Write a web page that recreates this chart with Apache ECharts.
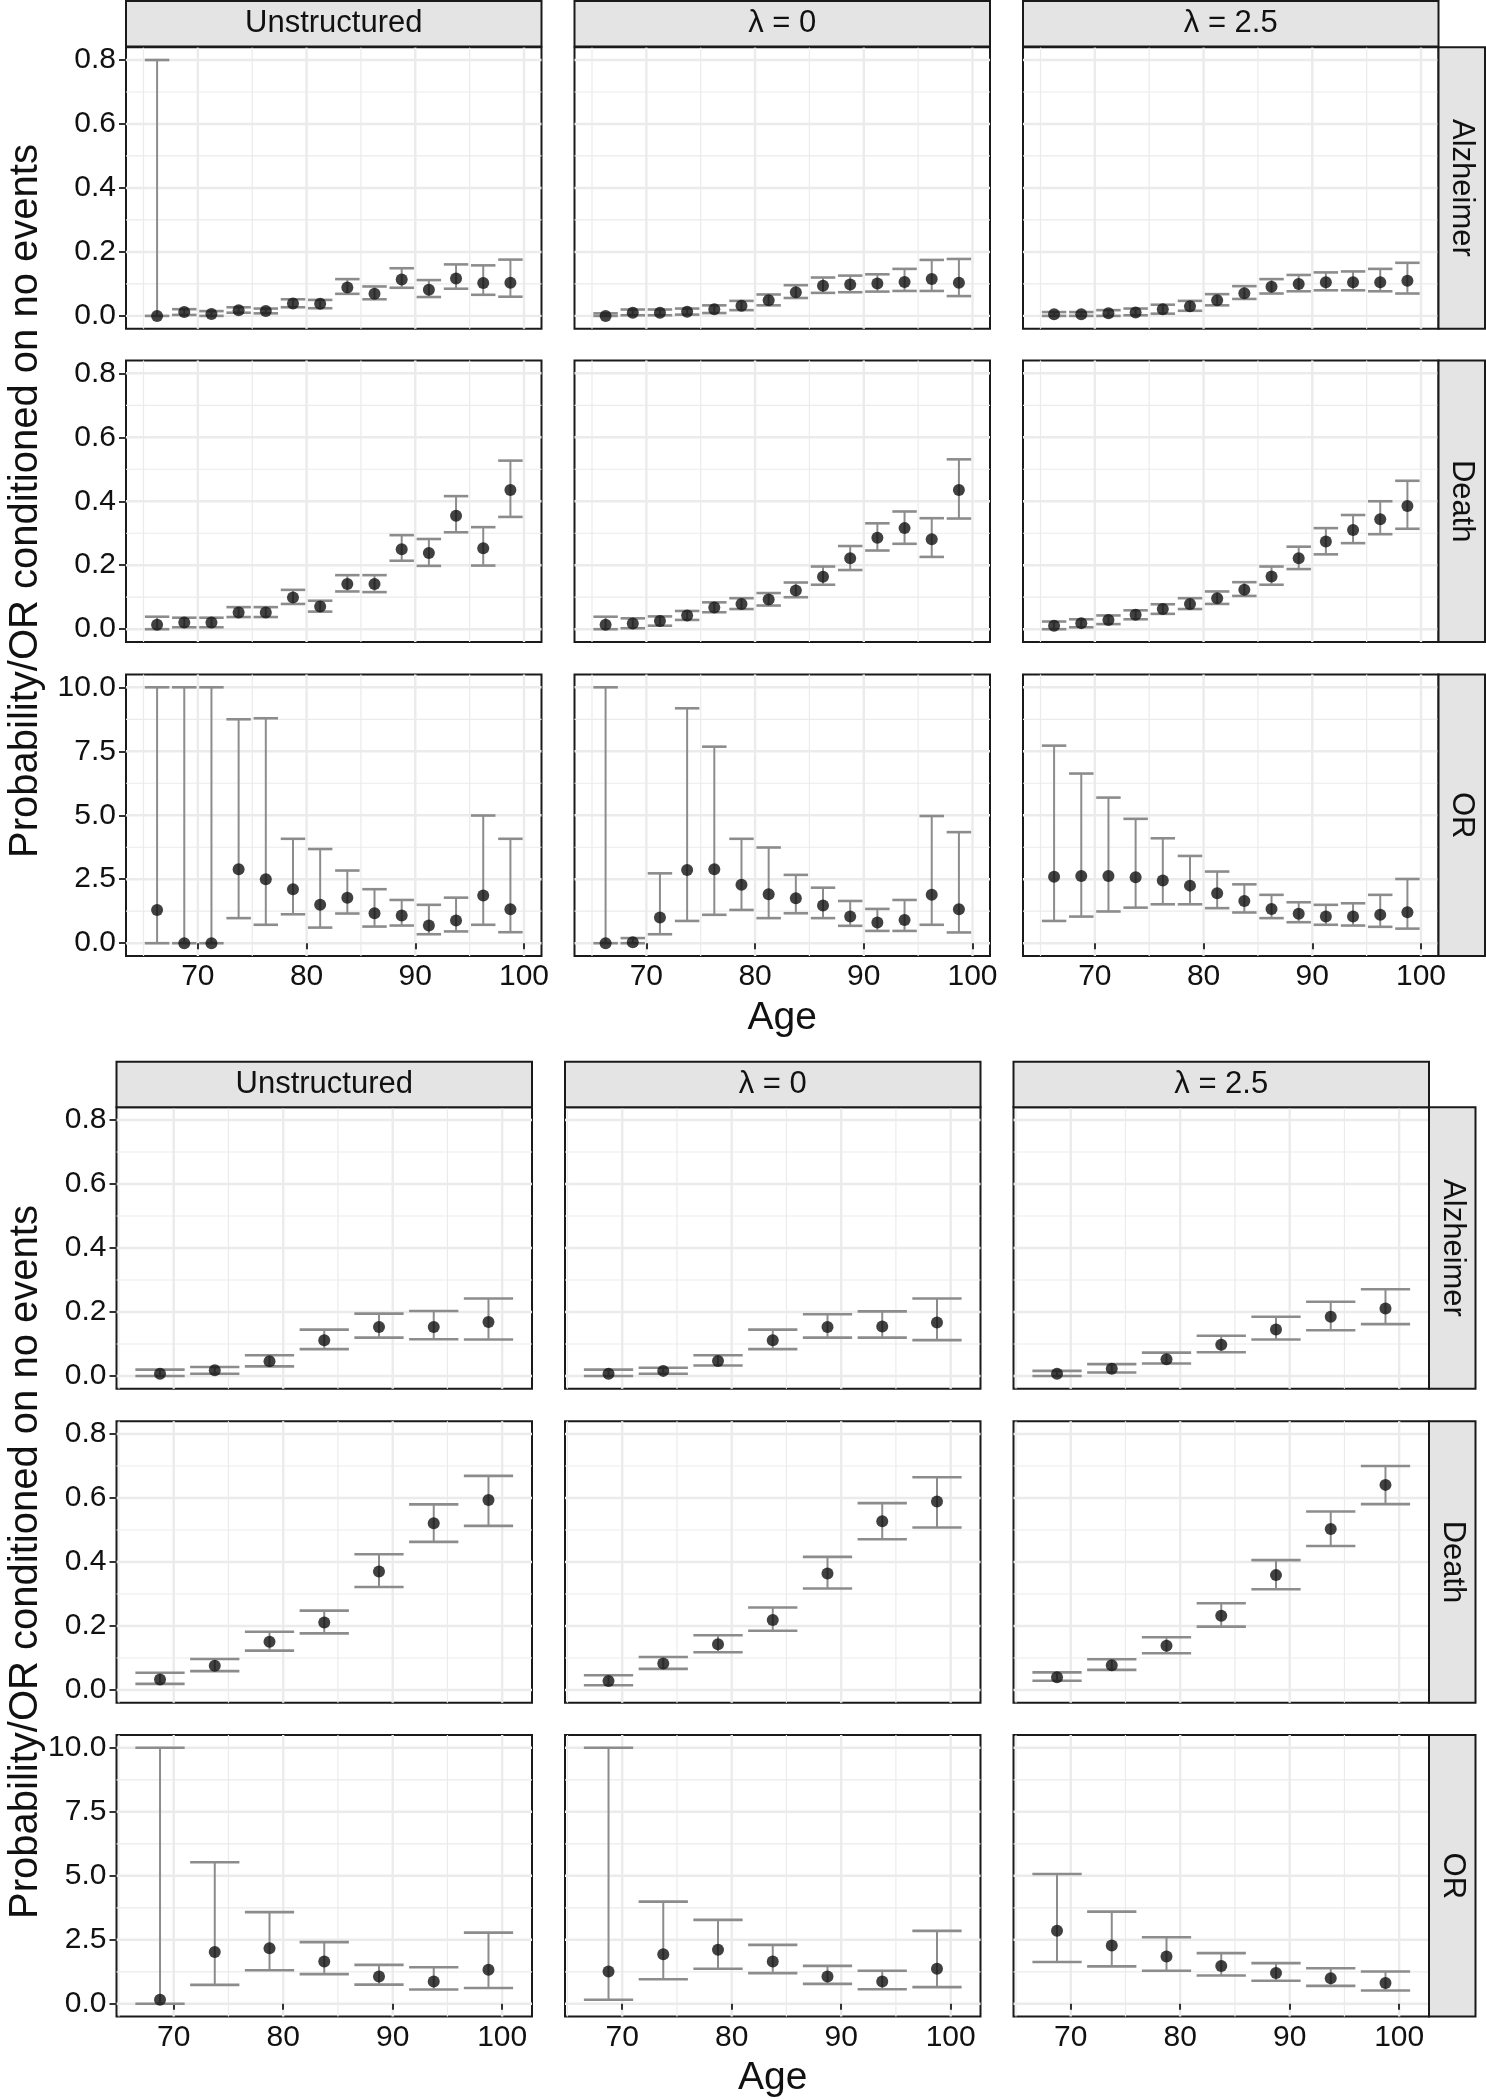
<!DOCTYPE html>
<html><head><meta charset="utf-8">
<script src="https://cdn.jsdelivr.net/npm/echarts@6/dist/echarts.min.js"></script>
<style>html,body{margin:0;padding:0;background:#fff}#c{width:1486px;height:2100px}</style>
</head><body><div id="c"></div>
<script>
// ---------- categories / ticks ----------
const columnLabels = ['Unstructured', 'λ = 0', 'λ = 2.5'];
const rowLabels = ['Alzheimer', 'Death', 'OR'];
const agesTop = [66.25, 68.75, 71.25, 73.75, 76.25, 78.75, 81.25, 83.75, 86.25, 88.75, 91.25, 93.75, 96.25, 98.75];
const agesBottom = [68.75, 73.75, 78.75, 83.75, 88.75, 93.75, 98.75];
const ageTicks = [70, 80, 90, 100];
const ageMinor = [65, 75, 85, 95];
const probTicks = [0, 0.2, 0.4, 0.6, 0.8];
const probMinor = [0.1, 0.3, 0.5, 0.7];
const orTicks = [0, 2.5, 5, 7.5, 10];
const orMinor = [1.25, 3.75, 6.25, 8.75];

// ---------- top block (2.5-year age groups) ----------
const topAlzUnstrEst = [0.000, 0.012, 0.006, 0.018, 0.015, 0.039, 0.038, 0.089, 0.069, 0.114, 0.082, 0.117, 0.103, 0.104];
const topAlzUnstrLo  = [0.000, 0.003, 0.000, 0.010, 0.008, 0.027, 0.024, 0.069, 0.052, 0.088, 0.059, 0.085, 0.066, 0.060];
const topAlzUnstrHi  = [0.800, 0.021, 0.015, 0.027, 0.023, 0.052, 0.050, 0.115, 0.092, 0.149, 0.112, 0.161, 0.158, 0.176];
const topAlzL0Est = [0.000, 0.010, 0.010, 0.013, 0.021, 0.032, 0.049, 0.074, 0.094, 0.098, 0.101, 0.106, 0.115, 0.104];
const topAlzL0Lo  = [0.000, 0.002, 0.002, 0.004, 0.009, 0.018, 0.033, 0.056, 0.072, 0.074, 0.076, 0.078, 0.078, 0.062];
const topAlzL0Hi  = [0.008, 0.020, 0.020, 0.023, 0.033, 0.047, 0.067, 0.096, 0.120, 0.126, 0.130, 0.147, 0.175, 0.178];
const topAlzL25Est = [0.005, 0.005, 0.008, 0.011, 0.021, 0.030, 0.049, 0.071, 0.091, 0.100, 0.105, 0.105, 0.105, 0.110];
const topAlzL25Lo  = [0.000, 0.000, 0.000, 0.002, 0.007, 0.016, 0.033, 0.053, 0.070, 0.077, 0.080, 0.080, 0.077, 0.070];
const topAlzL25Hi  = [0.012, 0.012, 0.018, 0.023, 0.035, 0.047, 0.068, 0.093, 0.115, 0.128, 0.136, 0.139, 0.147, 0.166];

const topDeathUnstrEst = [0.014, 0.021, 0.021, 0.052, 0.052, 0.099, 0.071, 0.141, 0.141, 0.250, 0.238, 0.355, 0.253, 0.435];
const topDeathUnstrLo  = [0.000, 0.006, 0.006, 0.038, 0.038, 0.079, 0.055, 0.118, 0.116, 0.214, 0.198, 0.303, 0.199, 0.351];
const topDeathUnstrHi  = [0.039, 0.036, 0.036, 0.069, 0.069, 0.123, 0.089, 0.169, 0.169, 0.294, 0.282, 0.416, 0.319, 0.527];
const topDeathL0Est = [0.014, 0.018, 0.026, 0.043, 0.068, 0.079, 0.093, 0.121, 0.164, 0.222, 0.286, 0.316, 0.281, 0.435];
const topDeathL0Lo  = [0.000, 0.003, 0.011, 0.029, 0.053, 0.063, 0.074, 0.100, 0.139, 0.185, 0.246, 0.267, 0.226, 0.346];
const topDeathL0Hi  = [0.039, 0.034, 0.040, 0.057, 0.084, 0.097, 0.113, 0.146, 0.196, 0.260, 0.331, 0.368, 0.347, 0.531];
const topDeathL25Est = [0.011, 0.019, 0.029, 0.045, 0.063, 0.079, 0.097, 0.123, 0.165, 0.222, 0.274, 0.310, 0.344, 0.385];
const topDeathL25Lo  = [0.000, 0.006, 0.016, 0.031, 0.048, 0.063, 0.079, 0.104, 0.139, 0.188, 0.234, 0.269, 0.297, 0.314];
const topDeathL25Hi  = [0.024, 0.031, 0.043, 0.059, 0.078, 0.097, 0.118, 0.147, 0.196, 0.258, 0.316, 0.357, 0.400, 0.464];

const topORUnstrEst = [1.30, 0.00, 0.00, 2.89, 2.50, 2.11, 1.50, 1.78, 1.17, 1.08, 0.69, 0.89, 1.86, 1.33];
const topORUnstrLo  = [0.00, 0.00, 0.00, 0.98, 0.72, 1.13, 0.61, 1.16, 0.65, 0.69, 0.35, 0.46, 0.72, 0.43];
const topORUnstrHi  = [10.0, 10.0, 10.0, 8.75, 8.79, 4.08, 3.68, 2.84, 2.11, 1.69, 1.50, 1.78, 4.99, 4.08];
const topORL0Est = [0.00, 0.04, 1.00, 2.86, 2.89, 2.28, 1.91, 1.76, 1.47, 1.04, 0.81, 0.91, 1.89, 1.33];
const topORL0Lo  = [0.00, 0.00, 0.35, 0.87, 1.11, 1.30, 0.98, 1.17, 0.98, 0.68, 0.48, 0.48, 0.72, 0.42];
const topORL0Hi  = [10.0, 0.20, 2.73, 9.18, 7.68, 4.08, 3.74, 2.67, 2.17, 1.65, 1.34, 1.69, 4.97, 4.34];
const topORL25Est = [2.60, 2.63, 2.63, 2.58, 2.45, 2.25, 1.95, 1.65, 1.34, 1.15, 1.04, 1.04, 1.11, 1.21];
const topORL25Lo  = [0.87, 1.04, 1.24, 1.39, 1.52, 1.52, 1.37, 1.20, 0.98, 0.82, 0.72, 0.69, 0.64, 0.57];
const topORL25Hi  = [7.72, 6.63, 5.69, 4.86, 4.10, 3.41, 2.80, 2.30, 1.89, 1.60, 1.50, 1.56, 1.89, 2.51];

// ---------- bottom block (5-year age groups) ----------
const botAlzUnstrEst = [0.007, 0.018, 0.046, 0.112, 0.153, 0.153, 0.169];
const botAlzUnstrLo  = [0.000, 0.007, 0.030, 0.084, 0.120, 0.115, 0.114];
const botAlzUnstrHi  = [0.020, 0.028, 0.065, 0.145, 0.195, 0.203, 0.242];
const botAlzL0Est = [0.007, 0.016, 0.047, 0.112, 0.153, 0.155, 0.167];
const botAlzL0Lo  = [0.000, 0.007, 0.033, 0.084, 0.120, 0.120, 0.112];
const botAlzL0Hi  = [0.020, 0.026, 0.065, 0.145, 0.193, 0.202, 0.242];
const botAlzL25Est = [0.007, 0.023, 0.052, 0.098, 0.145, 0.185, 0.211];
const botAlzL25Lo  = [0.000, 0.011, 0.039, 0.074, 0.114, 0.143, 0.162];
const botAlzL25Hi  = [0.016, 0.037, 0.073, 0.126, 0.185, 0.232, 0.271];

const botDeathUnstrEst = [0.033, 0.076, 0.151, 0.211, 0.370, 0.521, 0.594];
const botDeathUnstrLo  = [0.019, 0.059, 0.123, 0.177, 0.322, 0.463, 0.513];
const botDeathUnstrHi  = [0.054, 0.097, 0.182, 0.248, 0.424, 0.580, 0.669];
const botDeathL0Est = [0.028, 0.083, 0.143, 0.219, 0.364, 0.527, 0.589];
const botDeathL0Lo  = [0.015, 0.066, 0.118, 0.185, 0.317, 0.471, 0.508];
const botDeathL0Hi  = [0.046, 0.103, 0.171, 0.258, 0.416, 0.584, 0.665];
const botDeathL25Est = [0.040, 0.077, 0.138, 0.232, 0.359, 0.503, 0.641];
const botDeathL25Lo  = [0.029, 0.063, 0.115, 0.198, 0.315, 0.450, 0.581];
const botDeathL25Hi  = [0.055, 0.096, 0.165, 0.271, 0.406, 0.558, 0.700];

const botORUnstrEst = [0.16, 2.02, 2.17, 1.65, 1.07, 0.87, 1.33];
const botORUnstrLo  = [0.00, 0.74, 1.31, 1.16, 0.75, 0.56, 0.62];
const botORUnstrHi  = [10.0, 5.53, 3.58, 2.41, 1.52, 1.43, 2.78];
const botORL0Est = [1.26, 1.94, 2.11, 1.65, 1.07, 0.87, 1.37];
const botORL0Lo  = [0.16, 0.96, 1.37, 1.20, 0.78, 0.57, 0.65];
const botORL0Hi  = [10.0, 3.99, 3.28, 2.30, 1.48, 1.29, 2.85];
const botORL25Est = [2.85, 2.28, 1.85, 1.48, 1.20, 1.00, 0.81];
const botORL25Lo  = [1.63, 1.46, 1.29, 1.105, 0.90, 0.70, 0.52];
const botORL25Hi  = [5.07, 3.60, 2.60, 1.98, 1.59, 1.39, 1.26];

// ---------- assembly ----------
const topPanels = [
  [[topAlzUnstrEst, topAlzUnstrLo, topAlzUnstrHi], [topAlzL0Est, topAlzL0Lo, topAlzL0Hi], [topAlzL25Est, topAlzL25Lo, topAlzL25Hi]],
  [[topDeathUnstrEst, topDeathUnstrLo, topDeathUnstrHi], [topDeathL0Est, topDeathL0Lo, topDeathL0Hi], [topDeathL25Est, topDeathL25Lo, topDeathL25Hi]],
  [[topORUnstrEst, topORUnstrLo, topORUnstrHi], [topORL0Est, topORL0Lo, topORL0Hi], [topORL25Est, topORL25Lo, topORL25Hi]]
];
const botPanels = [
  [[botAlzUnstrEst, botAlzUnstrLo, botAlzUnstrHi], [botAlzL0Est, botAlzL0Lo, botAlzL0Hi], [botAlzL25Est, botAlzL25Lo, botAlzL25Hi]],
  [[botDeathUnstrEst, botDeathUnstrLo, botDeathUnstrHi], [botDeathL0Est, botDeathL0Lo, botDeathL0Hi], [botDeathL25Est, botDeathL25Lo, botDeathL25Hi]],
  [[botORUnstrEst, botORUnstrLo, botORUnstrHi], [botORL0Est, botORL0Lo, botORL0Hi], [botORL25Est, botORL25Lo, botORL25Hi]]
];

const FONT = '"Liberation Sans", Arial, Helvetica, sans-serif';
const TEXT = '#111111';
const BORDER = '#1a1a1a';
const STRIP_FILL = '#E4E4E4';
const GRID_COLOR = '#EBEBEB';
const EB_COLOR = '#8c8c8c';
const TICK_FS = 30, STRIP_FS = 31, TITLE_FS = 39;

const blocks = [
  { ages: agesTop, cap: 1.125, xMin: 63.39, xMax: 101.61, panels: topPanels,
    colLeft: [126, 574.5, 1023], rowTop: [47.2, 360.5, 674.5], pw: 415.5, ph: 281.5,
    stripTop: 1, stripH: 45.5, rightStripW: 46.5, ageY: 1018, yTitleY: 501 },
  { ages: agesBottom, cap: 2.25, xMin: 64.775, xMax: 102.725, panels: botPanels,
    colLeft: [116.5, 565, 1013.5], rowTop: [1107.2, 1421.2, 1735], pw: 415.5, ph: 281.6,
    stripTop: 1061.7, stripH: 45.5, rightStripW: 46.5, ageY: 2078, yTitleY: 1562 }
];

const grids = [], xAxes = [], yAxes = [], series = [], graphics = [];

blocks.forEach((b) => {
  for (let r = 0; r < 3; r++) {
    const isOR = r === 2;
    const yMin = isOR ? -0.5 : -0.04, yMax = isOR ? 10.5 : 0.84;
    const yMajor = isOR ? orTicks : probTicks, yMinorV = isOR ? orMinor : probMinor;
    for (let c = 0; c < 3; c++) {
      const gi = grids.length;
      const [est, lo, hi] = b.panels[r][c];
      grids.push({ left: b.colLeft[c], top: b.rowTop[r], width: b.pw, height: b.ph,
        show: true, borderColor: BORDER, borderWidth: 2, backgroundColor: '#fff', containLabel: false });
      const isBottom = r === 2, isLeft = c === 0;
      xAxes.push({ gridIndex: gi, type: 'value', min: b.xMin, max: b.xMax,
        axisLine: { show: false }, splitLine: { show: false },
        axisTick: { show: isBottom, customValues: ageTicks, length: 6, lineStyle: { color: '#333', width: 2 } },
        axisLabel: { show: isBottom, customValues: ageTicks, margin: 6, fontSize: TICK_FS, color: TEXT, fontFamily: FONT } });
      yAxes.push({ gridIndex: gi, type: 'value', min: yMin, max: yMax,
        axisLine: { show: false }, splitLine: { show: false },
        axisTick: { show: isLeft, customValues: yMajor, length: 7, lineStyle: { color: '#333', width: 2 } },
        axisLabel: { show: isLeft, customValues: yMajor, margin: 10, fontSize: TICK_FS, color: TEXT, fontFamily: FONT,
          formatter: (v) => Number(v).toFixed(1) } });

      // panel grid lines: [kind(0=horizontal,1=vertical), value, major(1)/minor(0)]
      const gridData = [];
      yMajor.forEach(v => gridData.push([0, v, 1]));
      yMinorV.forEach(v => gridData.push([0, v, 0]));
      ageTicks.forEach(v => gridData.push([1, v, 1]));
      ageMinor.forEach(v => gridData.push([1, v, 0]));
      const xMin = b.xMin, xMax = b.xMax;
      series.push({ type: 'custom', xAxisIndex: gi, yAxisIndex: gi, data: gridData, z: 0, animation: false, silent: true,
        dimensions: ['kind', 'val', 'major'], encode: { x: -1, y: -1 },
        renderItem: (params, api) => {
          const kind = api.value(0), v = api.value(1), major = api.value(2);
          let p1, p2;
          if (kind === 0) { p1 = api.coord([xMin, v]); p2 = api.coord([xMax, v]); }
          else { p1 = api.coord([v, yMin]); p2 = api.coord([v, yMax]); }
          return { type: 'line', shape: { x1: p1[0], y1: p1[1], x2: p2[0], y2: p2[1] },
            style: { stroke: GRID_COLOR, lineWidth: major ? 2.4 : 1.2 } };
        } });

      const pts = b.ages.map((a, i) => [a, est[i]]);
      const bars = b.ages.map((a, i) => [a, lo[i], hi[i]]);
      const cap = b.cap;
      series.push({ type: 'custom', xAxisIndex: gi, yAxisIndex: gi, data: bars, z: 3, animation: false, silent: true,
        encode: { x: 0, y: [1, 2] },
        renderItem: (params, api) => {
          const x = api.value(0), l = api.value(1), h = api.value(2);
          const pt = api.coord([x, h]), pb = api.coord([x, l]);
          const xl = api.coord([x - cap, l])[0], xr = api.coord([x + cap, l])[0];
          return { type: 'group', children: [
            { type: 'line', shape: { x1: pt[0], y1: pt[1], x2: pb[0], y2: pb[1] }, style: { stroke: EB_COLOR, lineWidth: 2 } },
            { type: 'line', shape: { x1: xl, y1: pt[1], x2: xr, y2: pt[1] }, style: { stroke: EB_COLOR, lineWidth: 2.6 } },
            { type: 'line', shape: { x1: xl, y1: pb[1], x2: xr, y2: pb[1] }, style: { stroke: EB_COLOR, lineWidth: 2.6 } }
          ] };
        } });
      series.push({ type: 'scatter', xAxisIndex: gi, yAxisIndex: gi, data: pts, symbol: 'circle', symbolSize: 12,
        itemStyle: { color: '#111111' }, z: 5, animation: false, silent: true });
    }
  }

  // column strips
  for (let c = 0; c < 3; c++) {
    graphics.push({ type: 'rect', shape: { x: b.colLeft[c], y: b.stripTop, width: b.pw, height: b.stripH },
      style: { fill: STRIP_FILL, stroke: BORDER, lineWidth: 2 }, z: 10, silent: true });
    graphics.push({ type: 'text', x: b.colLeft[c] + b.pw / 2, y: b.stripTop + b.stripH / 2,
      style: { text: columnLabels[c], font: `${STRIP_FS}px ${FONT}`, fill: TEXT, textAlign: 'center', textVerticalAlign: 'middle' },
      z: 11, silent: true });
  }
  // row strips
  const rx = b.colLeft[2] + b.pw;
  for (let r = 0; r < 3; r++) {
    graphics.push({ type: 'rect', shape: { x: rx, y: b.rowTop[r], width: b.rightStripW, height: b.ph },
      style: { fill: STRIP_FILL, stroke: BORDER, lineWidth: 2 }, z: 10, silent: true });
    graphics.push({ type: 'text', x: rx + b.rightStripW / 2, y: b.rowTop[r] + b.ph / 2, rotation: -Math.PI / 2,
      style: { text: rowLabels[r], font: `${STRIP_FS}px ${FONT}`, fill: TEXT, textAlign: 'center', textVerticalAlign: 'middle' },
      z: 11, silent: true });
  }
  // axis titles
  const cx = (b.colLeft[0] + b.colLeft[2] + b.pw) / 2;
  graphics.push({ type: 'text', x: cx, y: b.ageY,
    style: { text: 'Age', font: `${TITLE_FS}px ${FONT}`, fill: TEXT, textAlign: 'center', textVerticalAlign: 'middle' },
    z: 11, silent: true });
  graphics.push({ type: 'text', x: 26, y: b.yTitleY, rotation: Math.PI / 2,
    style: { text: 'Probability/OR conditioned on no events', font: `${TITLE_FS + 1}px ${FONT}`, fill: TEXT, textAlign: 'center', textVerticalAlign: 'middle' },
    z: 11, silent: true });
});

const chart = echarts.init(document.getElementById('c'), null, { renderer: 'canvas', width: 1486, height: 2100 });
chart.setOption({
  backgroundColor: '#ffffff',
  animation: false,
  grid: grids,
  xAxis: xAxes,
  yAxis: yAxes,
  series: series,
  graphic: { elements: graphics }
});
</script>
</body></html>
